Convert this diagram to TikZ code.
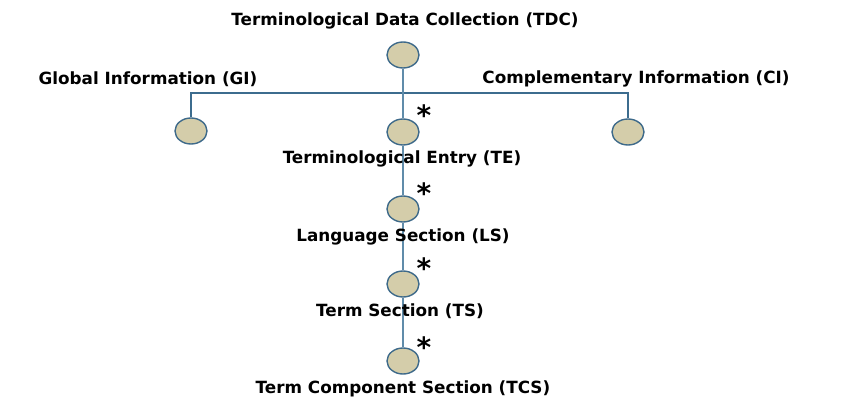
\documentclass[tikz,border=0pt]{standalone}
\usepackage{fontspec}
\setmainfont{DejaVu Sans}
\usetikzlibrary{shapes.geometric}
\begin{document}
\definecolor{dotfill}{RGB}{212,205,170}
\definecolor{dotline}{RGB}{62,106,138}
\definecolor{linkcol}{RGB}{60,108,142}
\definecolor{stemcol}{RGB}{96,140,170}
\begin{tikzpicture}[x=1pt,y=-1pt,
  dot/.style={ellipse,draw=dotline,fill=dotfill,line width=1.4pt,minimum width=32pt,minimum height=26pt,inner sep=0pt},
  lab/.style={font=\fontsize{16.8}{18}\selectfont\bfseries,inner sep=0pt},
  star/.style={font=\fontsize{28}{28}\selectfont\bfseries,inner sep=0pt},
  link/.style={draw=linkcol,line width=1.4pt},
  stem/.style={draw=stemcol,line width=1.6pt}]
\useasboundingbox (0,0) rectangle (842,398);
\node[lab] (ltdc) at (405,21) {Terminological Data Collection (TDC)};
\node[lab] (lgi) at (148,79) {Global Information (GI)};
\node[lab] (lci) at (636,79) {Complementary Information (CI)};
\node[dot] (tdc) at (403,55) {};
\node[dot] (gi) at (191,131) {};
\node[dot] (te) at (403,132) {};
\node[dot] (ci) at (628,132) {};
\node[dot] (ls) at (403,209) {};
\node[dot] (ts) at (403,284) {};
\node[dot] (tcs) at (403,361) {};
\coordinate (barl) at (gi.north |- 0,93);
\coordinate (barr) at (ci.north |- 0,93);
\draw[link] (gi.north) -- (barl) -- (barr) -- (ci.north);
\draw[stem] (tdc.south) -- (te.north);
\draw[stem] (te.south) -- (ls.north);
\draw[stem] (ls.south) -- (ts.north);
\draw[stem] (ts.south) -- (tcs.north);
\node[lab] (lte) at (402,159) {Terminological Entry (TE)};
\node[lab] (lls) at (403,237) {Language Section (LS)};
\node[lab] (lts) at (400,311) {Term Section (TS)};
\node[lab] (ltcs) at (403,389) {Term Component Section (TCS)};
\node[star] (s1) at (424,115) {*};
\node[star] (s2) at (424,193) {*};
\node[star] (s3) at (424,268) {*};
\node[star] (s4) at (424,347) {*};
\end{tikzpicture}
\end{document}
